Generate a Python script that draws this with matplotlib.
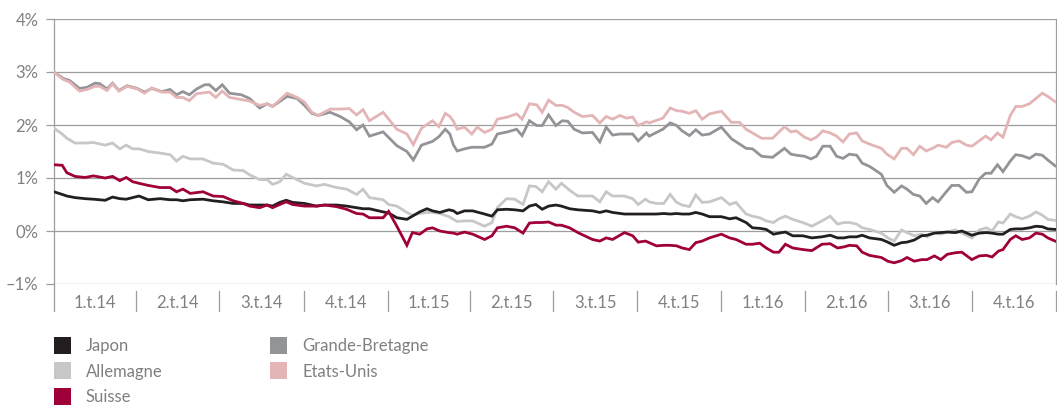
import numpy as np
import pandas as pd
import matplotlib
matplotlib.use("Agg")
import matplotlib.pyplot as plt
from matplotlib.patches import Rectangle
import matplotlib.transforms as mtransforms

# days since 2014-01-01 for the weekly readings
days_hi = [0, 10, 17, 28, 36, 45, 50, 58, 64, 71, 80, 91, 99, 107, 118, 127, 134, 141, 148, 156,
           165, 170, 177, 184, 192, 205, 214, 225, 233, 239, 255, 266, 274, 282, 289, 302, 313, 323,
           331, 338, 345, 360, 375, 386, 393, 402, 414, 421, 428, 433, 437, 441, 449, 457, 463, 471,
           479, 485, 496, 506, 512, 520, 528, 534, 541, 549, 556, 562, 569, 578, 589, 597, 604, 611,
           619, 626, 633, 639, 648, 651, 666, 674, 681, 687, 695, 702, 709, 717, 730, 741, 750, 757,
           764, 774, 786, 799, 806, 812, 821, 828, 834, 841, 849, 856, 863, 870, 878, 884, 892, 905,
           911, 919, 927, 933, 940, 947, 954, 961, 967, 976, 982, 990, 998, 1004, 1012, 1019, 1025,
           1032, 1038, 1046, 1052, 1059, 1067, 1074, 1081, 1087, 1095]

grande_bretagne = [3.00, 2.88, 2.84, 2.69, 2.71, 2.79, 2.78, 2.68, 2.79, 2.65, 2.74, 2.69, 2.62, 2.69,
                   2.63, 2.67, 2.57, 2.63, 2.57, 2.68, 2.76, 2.76, 2.65, 2.76, 2.60, 2.57, 2.50, 2.32,
                   2.40, 2.35, 2.54, 2.50, 2.37, 2.22, 2.18, 2.24, 2.16, 2.06, 1.91, 2.00, 1.79, 1.87,
                   1.61, 1.50, 1.34, 1.62, 1.69, 1.78, 1.92, 1.83, 1.62, 1.51, 1.55, 1.58, 1.58, 1.58,
                   1.64, 1.83, 1.87, 1.92, 1.80, 2.08, 1.99, 1.99, 2.19, 1.99, 2.08, 2.07, 1.92, 1.85,
                   1.86, 1.68, 1.96, 1.81, 1.83, 1.83, 1.83, 1.70, 1.85, 1.79, 1.92, 2.04, 1.99, 1.89,
                   1.80, 1.91, 1.81, 1.83, 1.96, 1.74, 1.64, 1.56, 1.55, 1.41, 1.39, 1.56, 1.45, 1.43,
                   1.41, 1.36, 1.41, 1.60, 1.60, 1.41, 1.37, 1.45, 1.43, 1.28, 1.22, 1.07, 0.86, 0.73,
                   0.85, 0.79, 0.69, 0.66, 0.52, 0.63, 0.55, 0.74, 0.86, 0.86, 0.73, 0.74, 0.98, 1.09,
                   1.09, 1.25, 1.12, 1.32, 1.44, 1.42, 1.37, 1.45, 1.43, 1.34, 1.23]

etats_unis = [3.00, 2.86, 2.81, 2.64, 2.67, 2.73, 2.73, 2.65, 2.78, 2.64, 2.73, 2.68, 2.60, 2.70,
              2.62, 2.62, 2.52, 2.52, 2.46, 2.59, 2.61, 2.62, 2.52, 2.64, 2.52, 2.48, 2.45, 2.37,
              2.40, 2.35, 2.60, 2.52, 2.43, 2.24, 2.18, 2.30, 2.30, 2.31, 2.19, 2.29, 2.08, 2.24,
              1.92, 1.83, 1.63, 1.94, 2.08, 1.97, 2.22, 2.16, 2.07, 1.92, 1.96, 1.83, 1.96, 1.86,
              1.92, 2.11, 2.15, 2.21, 2.11, 2.40, 2.38, 2.24, 2.47, 2.37, 2.37, 2.33, 2.24, 2.16,
              2.18, 2.04, 2.16, 2.11, 2.18, 2.13, 2.15, 1.99, 2.06, 2.04, 2.13, 2.32, 2.27, 2.26,
              2.22, 2.27, 2.11, 2.21, 2.26, 2.05, 2.05, 1.92, 1.85, 1.75, 1.75, 1.97, 1.87, 1.89,
              1.77, 1.72, 1.77, 1.89, 1.85, 1.79, 1.68, 1.83, 1.85, 1.70, 1.64, 1.56, 1.45, 1.36,
              1.56, 1.56, 1.44, 1.60, 1.51, 1.56, 1.62, 1.58, 1.67, 1.70, 1.62, 1.60, 1.70, 1.79,
              1.72, 1.85, 1.77, 2.18, 2.35, 2.35, 2.40, 2.50, 2.60, 2.54, 2.44]

days_lo = [0, 9, 14, 23, 34, 43, 56, 64, 72, 79, 86, 93, 103, 116, 127, 134, 141, 149, 163, 174,
           185, 196, 207, 214, 225, 233, 239, 247, 254, 261, 274, 287, 296, 309, 320, 331, 338, 345,
           360, 366, 375, 386, 392, 400, 408, 414, 422, 432, 437, 441, 449, 458, 471, 479, 485, 495,
           504, 513, 520, 527, 534, 541, 549, 555, 564, 573, 589, 597, 604, 611, 624, 633, 639, 647,
           651, 659, 667, 674, 681, 687, 695, 702, 709, 717, 730, 739, 746, 757, 764, 772, 779, 787,
           793, 800, 808, 819, 829, 840, 849, 857, 864, 870, 878, 884, 892, 905, 912, 919, 927, 933,
           941, 949, 955, 963, 970, 977, 986, 993, 1004, 1012, 1020, 1026, 1033, 1038, 1046, 1052,
           1059, 1067, 1074, 1081, 1087, 1095]

japon = [0.74, 0.69, 0.66, 0.63, 0.61, 0.60, 0.58, 0.64, 0.61, 0.60, 0.63, 0.66, 0.59, 0.61, 0.59,
         0.59, 0.57, 0.59, 0.60, 0.57, 0.55, 0.52, 0.52, 0.49, 0.49, 0.49, 0.47, 0.54, 0.58, 0.54,
         0.52, 0.47, 0.49, 0.49, 0.47, 0.44, 0.42, 0.42, 0.36, 0.34, 0.25, 0.22, 0.28, 0.36, 0.42,
         0.38, 0.35, 0.40, 0.38, 0.33, 0.38, 0.38, 0.32, 0.28, 0.40, 0.41, 0.40, 0.38, 0.47, 0.50,
         0.41, 0.47, 0.49, 0.47, 0.42, 0.40, 0.38, 0.35, 0.38, 0.35, 0.32, 0.32, 0.32, 0.32, 0.32,
         0.32, 0.33, 0.32, 0.33, 0.32, 0.32, 0.35, 0.32, 0.27, 0.27, 0.23, 0.25, 0.16, 0.06, 0.05,
         0.03, -0.06, -0.04, -0.02, -0.09, -0.09, -0.13, -0.11, -0.08, -0.13, -0.13, -0.11, -0.11,
         -0.08, -0.13, -0.16, -0.21, -0.27, -0.22, -0.21, -0.17, -0.09, -0.08, -0.04, -0.03, -0.02,
         -0.03, 0.00, -0.08, -0.04, -0.03, -0.04, -0.06, -0.06, 0.03, 0.04, 0.04, 0.06, 0.09, 0.08,
         0.04, 0.03]

allemagne = [1.94, 1.83, 1.75, 1.66, 1.66, 1.67, 1.62, 1.66, 1.55, 1.62, 1.55, 1.55, 1.50, 1.47,
             1.44, 1.32, 1.41, 1.36, 1.36, 1.28, 1.26, 1.15, 1.14, 1.06, 0.97, 0.97, 0.88, 0.93,
             1.07, 1.01, 0.90, 0.85, 0.88, 0.82, 0.79, 0.69, 0.79, 0.63, 0.59, 0.50, 0.47, 0.35,
             0.30, 0.33, 0.35, 0.35, 0.33, 0.27, 0.22, 0.18, 0.19, 0.19, 0.09, 0.16, 0.44, 0.61,
             0.60, 0.50, 0.85, 0.84, 0.74, 0.93, 0.79, 0.90, 0.77, 0.66, 0.66, 0.55, 0.74, 0.66,
             0.66, 0.61, 0.50, 0.60, 0.55, 0.52, 0.52, 0.69, 0.54, 0.49, 0.46, 0.68, 0.54, 0.55,
             0.63, 0.50, 0.54, 0.32, 0.28, 0.25, 0.19, 0.16, 0.23, 0.28, 0.22, 0.16, 0.09, 0.19,
             0.28, 0.13, 0.16, 0.16, 0.13, 0.06, 0.03, -0.04, -0.13, -0.19, 0.02, -0.03, -0.09,
             -0.06, -0.11, -0.03, -0.06, -0.02, 0.02, -0.04, -0.13, 0.02, 0.06, 0.00, 0.17, 0.15,
             0.32, 0.27, 0.23, 0.28, 0.36, 0.30, 0.22, 0.20]

suisse = [1.25, 1.24, 1.10, 1.03, 1.01, 1.04, 1.00, 1.03, 0.95, 1.01, 0.93, 0.90, 0.86, 0.82, 0.82,
          0.74, 0.79, 0.71, 0.74, 0.66, 0.65, 0.57, 0.52, 0.47, 0.44, 0.49, 0.44, 0.50, 0.55, 0.50,
          0.47, 0.47, 0.49, 0.46, 0.41, 0.33, 0.32, 0.25, 0.25, 0.37, 0.09, -0.27, -0.03, -0.06,
          0.04, 0.06, 0.00, -0.03, -0.04, -0.06, -0.02, -0.06, -0.16, -0.09, 0.06, 0.09, 0.06,
          -0.04, 0.15, 0.16, 0.16, 0.17, 0.11, 0.11, 0.06, -0.03, -0.16, -0.19, -0.13, -0.16,
          -0.03, -0.09, -0.21, -0.19, -0.22, -0.28, -0.27, -0.27, -0.28, -0.32, -0.35, -0.22,
          -0.19, -0.13, -0.06, -0.13, -0.16, -0.25, -0.25, -0.23, -0.32, -0.40, -0.40, -0.25,
          -0.32, -0.35, -0.37, -0.25, -0.24, -0.32, -0.30, -0.27, -0.28, -0.40, -0.46, -0.50,
          -0.57, -0.60, -0.56, -0.50, -0.57, -0.54, -0.54, -0.47, -0.54, -0.44, -0.41, -0.40,
          -0.54, -0.47, -0.46, -0.49, -0.38, -0.35, -0.16, -0.09, -0.16, -0.13, -0.04, -0.06,
          -0.13, -0.19]

quarter_labels = ["1.t.14", "2.t.14", "3.t.14", "4.t.14", "1.t.15", "2.t.15", "3.t.15", "4.t.15",
                  "1.t.16", "2.t.16", "3.t.16", "4.t.16"]
y_ticks = [-1, 0, 1, 2, 3, 4]
y_labels = ["–1%", "0%", "1%", "2%", "3%", "4%"]

names = ["Japon", "Allemagne", "Suisse", "Grande-Bretagne", "Etats-Unis"]
colors = ["#231f20", "#c7c7c8", "#a0003a", "#939498", "#e3b5b6"]

plt.rcParams["font.family"] = ["Lato", "DejaVu Sans"]
text_color = "#808080"
grid_color = "#9d9d9d"

start = pd.Timestamp("2014-01-01")
x_hi = start + pd.to_timedelta(days_hi, unit="D")
x_lo = start + pd.to_timedelta(days_lo, unit="D")
quarters = pd.date_range("2014-01-01", "2017-01-01", freq="QS")

W, H = 1057, 405
fig = plt.figure(figsize=(W / 100, H / 100), dpi=100)
ax = fig.add_axes([54 / W, 1 - 284 / H, 1002 / W, 265 / H])

series = {
    "Japon": (x_lo, japon),
    "Allemagne": (x_lo, allemagne),
    "Suisse": (x_lo, suisse),
    "Grande-Bretagne": (x_hi, grande_bretagne),
    "Etats-Unis": (x_hi, etats_unis),
}
order = ["Allemagne", "Grande-Bretagne", "Etats-Unis", "Japon", "Suisse"]
for name in order:
    xs, ys = series[name]
    ax.plot(xs, ys, color=colors[names.index(name)], lw=2.0, solid_joinstyle="miter", zorder=3)

ax.set_xlim(quarters[0], quarters[-1])
ax.set_ylim(-1, 4)
ax.set_yticks(y_ticks)
ax.set_yticklabels(y_labels)
for y in y_ticks:
    ax.axhline(y, color=grid_color, lw=0.9, zorder=1)
ax.tick_params(axis="y", length=5.8, width=0.9, color=grid_color, pad=5.5,
               labelsize=12, labelcolor=text_color)
ax.tick_params(axis="x", length=0, labelbottom=False)
for side in ["top", "bottom"]:
    ax.spines[side].set_visible(False)
for side in ["left", "right"]:
    ax.spines[side].set_color(grid_color)
    ax.spines[side].set_linewidth(0.9)

# quarter separators and centred labels below the plot
trans = mtransforms.blended_transform_factory(ax.transData, ax.transAxes)
ax.plot([quarters[0], quarters[0]], [0, -0.1], transform=trans, color=grid_color, lw=0.9, clip_on=False)
for q in quarters[1:]:
    ax.plot([q, q], [-0.026, -0.1], transform=trans, color=grid_color, lw=0.9, clip_on=False)
for i, lab in enumerate(quarter_labels):
    mid = quarters[i] + (quarters[i + 1] - quarters[i]) / 2
    ax.text(mid, -0.072, lab, transform=trans, ha="center", va="center",
            fontsize=12, color=text_color)

# legend, two columns
for i, (name, col) in enumerate(zip(names, colors)):
    cx = 54 + (i // 3) * 216
    cy = 345 + (i % 3) * 25.5
    fig.patches.append(Rectangle((cx / W, 1 - (cy + 8.5) / H), 17 / W, 17 / H,
                                 transform=fig.transFigure, color=col, lw=0))
    fig.text((cx + 32) / W, 1 - (cy + 1.5) / H, name, ha="left", va="center",
             fontsize=12, color=text_color)

fig.savefig("out.png", dpi=100)
plt.close(fig)
